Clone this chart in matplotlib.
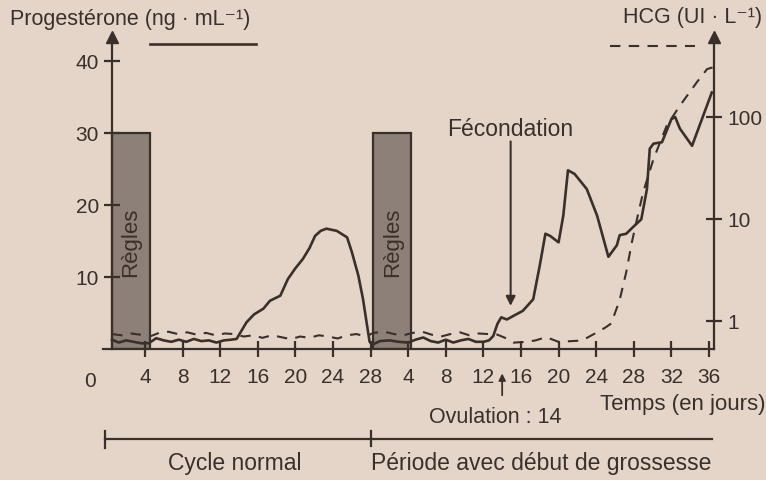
# Progesterone and HCG levels: normal cycle then start of pregnancy

import matplotlib.pyplot as plt
from matplotlib.lines import Line2D

# Days on one continuous timeline (0-28 normal cycle, 28-64 = days 0-36 of pregnancy)
prog_days = [0.5, 1.2, 2.0, 2.8, 3.6, 4.4, 5.2, 6.0, 6.8, 7.6, 8.4, 9.2, 10.0, 10.8,
             11.6, 12.4, 13.2, 13.75, 14.8, 15.6, 16.6, 17.3, 18.4, 19.2, 20.0, 20.8,
             21.5, 22.1, 22.7, 23.3, 24.4, 25.5, 26.0, 26.7, 27.2, 27.6, 27.9, 28.2,
             29.0, 30.0, 31.0, 32.0, 32.8, 33.6, 34.4, 35.2, 36.0, 36.8, 37.6, 38.4,
             39.2, 40.0, 40.6, 41.05, 41.5, 41.9, 42.5, 43.2, 44.2, 45.3, 46.0, 46.6,
             47.1, 48.0, 48.5, 49.0, 49.7, 51.0, 52.1, 53.3, 54.2, 54.5, 55.2, 55.9,
             56.8, 57.4, 57.7, 58.1, 59.0, 60.0, 60.4, 60.9, 62.2, 64.3]
prog_values = [1.3, 0.9, 1.2, 1.0, 0.8, 0.8, 1.5, 1.2, 1.0, 1.3, 1.0, 1.4, 1.1, 1.2,
               0.9, 1.2, 1.3, 1.4, 3.7, 4.8, 5.6, 6.7, 7.4, 9.7, 11.2, 12.5,
               14.0, 15.7, 16.4, 16.7, 16.4, 15.5, 13.5, 10.2, 6.9, 3.5, 1.0, 0.6,
               1.1, 1.2, 1.0, 0.9, 1.3, 1.6, 1.1, 0.9, 1.3, 0.9, 1.2, 1.4,
               1.0, 1.0, 1.2, 1.8, 3.5, 4.4, 4.1, 4.6, 5.3, 6.9, 11.6, 16.0,
               15.7, 14.8, 18.5, 24.8, 24.3, 22.2, 18.5, 12.8, 14.4, 15.8, 16.0, 16.9,
               18.0, 22.2, 27.8, 28.5, 28.7, 31.9, 32.2, 30.6, 28.2, 35.6]

hcg_days = [0.5, 1.5, 2.5, 3.5, 4.5, 5.5, 6.5, 7.5, 8.5, 9.5, 10.5, 11.5, 12.5, 13.5,
            14.5, 15.5, 16.5, 17.5, 18.5, 19.5, 20.5, 21.5, 22.5, 23.5, 24.5, 25.5,
            26.5, 27.5, 28.3, 29.5, 30.5, 31.5, 32.5, 33.5, 34.5, 35.5, 36.5, 37.5,
            38.5, 39.5, 40.5, 41.5, 42.3, 43.2, 44.5, 45.5, 46.7, 48.0, 49.2, 50.5,
            52.1, 53.0, 53.6, 54.5, 55.2, 55.8, 56.5, 57.0, 58.1, 59.5, 60.9, 62.7,
            63.8, 64.4]
hcg_values = [0.74, 0.72, 0.75, 0.73, 0.70, 0.76, 0.78, 0.74, 0.77, 0.73, 0.76, 0.72, 0.75, 0.74,
              0.70, 0.72, 0.68, 0.72, 0.69, 0.66, 0.70, 0.68, 0.72, 0.70, 0.67, 0.72,
              0.74, 0.70, 0.76, 0.78, 0.74, 0.72, 0.76, 0.78, 0.73, 0.70, 0.74, 0.77,
              0.72, 0.75, 0.74, 0.73, 0.68, 0.61, 0.62, 0.64, 0.69, 0.62, 0.63, 0.64,
              0.77, 0.86, 0.94, 1.6, 3.0, 5.9, 11.5, 18.2, 38.5, 81.5, 128, 217,
              293, 304]

# Menstruation blocks (start day, width, height)
regles_starts = [0.5, 28.3]
regles_width = 4.0
regles_height = 30

x_ticks = [4, 8, 12, 16, 20, 24, 28, 32, 36, 40, 44, 48, 52, 56, 60, 64]
x_labels = ['4', '8', '12', '16', '20', '24', '28', '4', '8', '12', '16', '20',
            '24', '28', '32', '36']
prog_ticks = [10, 20, 30, 40]
hcg_ticks = [1, 10, 100]

bg = '#e4d5c8'
ink = '#3a302b'
plt.rcParams['font.family'] = ['Liberation Sans', 'DejaVu Sans']

fig = plt.figure(figsize=(7.66, 4.81), dpi=100, facecolor=bg)
ax = fig.add_axes([0.134, 0.2723, 0.7977, 0.6487])
ax.set_facecolor('none')
ax.set_xlim(-0.5, 64.5)
ax.set_ylim(0, 43.3)

# Règles bars
for s in regles_starts:
    ax.bar(s, regles_height, width=regles_width, align='edge', color='#8c8078',
           edgecolor=ink, linewidth=1.6, zorder=1)
    ax.text(s + regles_width / 2, 14.9, 'Règles', rotation=90, ha='center',
            va='center', fontsize=16, color=ink, zorder=2)

ax.plot(prog_days, prog_values, color=ink, linewidth=1.9, zorder=3)

# spines and ticks
for side in ['top', 'right']:
    ax.spines[side].set_visible(False)
ax.spines['left'].set_position(('data', 0.5))
ax.spines['left'].set_color(ink)
ax.spines['bottom'].set_color(ink)
ax.spines['left'].set_linewidth(1.6)
ax.spines['bottom'].set_linewidth(1.6)
ax.set_xticks(x_ticks)
ax.set_xticklabels(x_labels)
ax.set_yticks(prog_ticks)
ax.tick_params(direction='inout', length=12, width=1.6, color=ink,
               labelcolor=ink, labelsize=15)
ax.tick_params(axis='x', pad=7)
ax.plot([0.5], [43.3], marker='^', markersize=9, color=ink, clip_on=False)

# HCG on log axis
ax2 = ax.twinx()
ax2.set_yscale('log')
ax2.set_ylim(0.528, 604)
ax2.plot(hcg_days, hcg_values, color=ink, linewidth=1.5, dashes=(5, 4), zorder=3)
for side in ['top', 'left', 'bottom']:
    ax2.spines[side].set_visible(False)
ax2.spines['right'].set_color(ink)
ax2.spines['right'].set_linewidth(1.6)
ax2.set_yticks(hcg_ticks)
ax2.set_yticklabels(['1', '10', '100'])
ax2.minorticks_off()
ax2.tick_params(direction='inout', length=12, width=1.6, color=ink,
                labelcolor=ink, labelsize=15)
ax.plot([64.5], [43.3], marker='^', markersize=9, color=ink, clip_on=False)

# axis titles and key lines
fig.text(10 / 766, 1 - 20 / 481, 'Progestérone (ng · mL⁻¹)', ha='left', va='center',
         fontsize=15.5, color=ink)
fig.text(762 / 766, 1 - 18 / 481, 'HCG (UI · L⁻¹)', ha='right', va='center',
         fontsize=15.5, color=ink)
fig.add_artist(Line2D([150 / 766, 256 / 766], [1 - 45 / 481] * 2, color=ink, lw=1.9))
fig.add_artist(Line2D([610 / 766, 695 / 766], [1 - 47 / 481] * 2, color=ink, lw=1.5,
                      dashes=(5, 4)))

ax.text(-1.85, -4.3, '0', ha='center', va='center', fontsize=15, color=ink)
ax.text(70.0, -7.6, 'Temps (en jours)', ha='right', va='center', fontsize=16,
        color=ink)

# Fécondation and ovulation arrows
ax.annotate('', xy=(42.9, 5.6), xytext=(42.9, 29.2),
            arrowprops=dict(arrowstyle='-|>', color=ink, lw=1.5, mutation_scale=14))
ax.text(42.9, 30.6, 'Fécondation', ha='center', va='center', fontsize=16.5, color=ink)
ax.annotate('', xy=(42.0, -3.0), xytext=(42.0, -6.8), annotation_clip=False,
            arrowprops=dict(arrowstyle='-|>', color=ink, lw=1.3, mutation_scale=10))
ax.text(41.3, -9.4, 'Ovulation : 14', ha='center', va='center', fontsize=15.5,
        color=ink)

# bottom period bracket
ax.plot([-0.26, 64.3], [-12.5, -12.5], color=ink, lw=1.6, clip_on=False)
ax.plot([-0.26, -0.26], [-11.4, -13.8], color=ink, lw=1.6, clip_on=False)
ax.plot([28.0, 28.0], [-11.4, -13.4], color=ink, lw=1.6, clip_on=False)
ax.text(13.6, -15.8, 'Cycle normal', ha='center', va='center', fontsize=16.5,
        color=ink)
ax.text(28.0, -15.8, 'Période avec début de grossesse', ha='left', va='center',
        fontsize=16.5, color=ink)

plt.savefig('out.png', dpi=100, facecolor=bg)
